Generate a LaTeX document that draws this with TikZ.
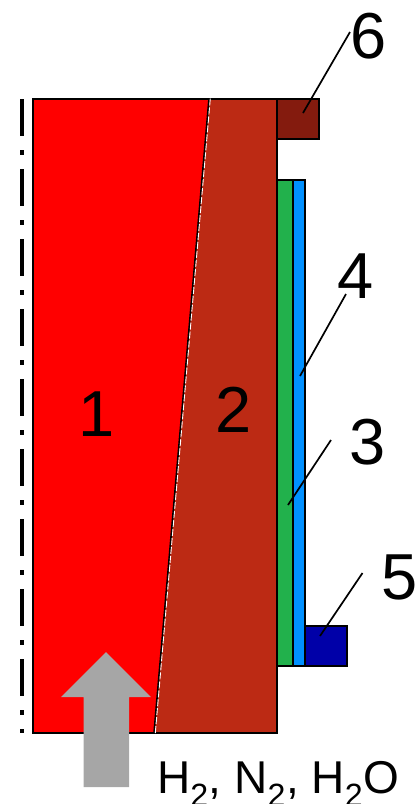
\documentclass[tikz,border=0pt]{standalone}
\usepackage{fontspec}
\setmainfont{Liberation Sans}
\definecolor{cA}{HTML}{FF0000}
\definecolor{cB}{HTML}{BC2A14}
\definecolor{cC}{HTML}{841B0E}
\definecolor{cG}{HTML}{22B14C}
\definecolor{cL}{HTML}{0090FF}
\definecolor{cD}{HTML}{0000A8}
\definecolor{cArrow}{HTML}{A6A6A6}
\tikzset{
  part/.style={draw=black,line width=2pt,line join=miter},
  leader/.style={draw=black,line width=1.7pt},
  digit/.style={inner sep=0pt,font=\fontsize{65}{65}\selectfont},
  gas/.style={inner sep=0pt,anchor=base west,font=\fontsize{46}{46}\selectfont},
}
\begin{document}
\begin{tikzpicture}[x=1pt,y=-1pt]
\useasboundingbox (0,0) rectangle (418,804);
% parts
\coordinate (divT) at (209,98.5);
\coordinate (divB) at (154,733);
\path[fill=cA] (32.5,98.5) -- (divT) -- (divB) -- (32.5,733) -- cycle;
\path[fill=cB] (divT) -- (277,98.5) -- (277,733) -- (divB) -- cycle;
\draw[part] (277,98.5) rectangle (319,139);
\path[fill=cC] (277,98.5) rectangle (319,139);
\draw[part] (277,98.5) rectangle (319,139);
\draw[part,fill=cG] (277,180) rectangle (293,666);
\draw[part,fill=cL] (293,180) rectangle (305,666);
\draw[part,fill=cD] (305,626) rectangle (346.5,666);
\draw[part] (32.5,98.5) rectangle (277,733);
% interface
\draw[black,line width=1.6pt] (divT) -- (divB);
\draw[white,line width=0.9pt,dash pattern=on 7pt off 2pt] ([xshift=1.3pt]divT) -- ([xshift=1.3pt]divB);
% axis
\coordinate (axT) at (22,99);
\coordinate (axB) at (22,733);
\draw[black,line width=4.6pt,dash pattern=on 37pt off 14pt on 5pt off 14pt] (axT) -- (axB);
% gas arrow
\path[fill=cArrow] (106,652) -- (151,697) -- (129,697) -- (129,787) -- (83.5,787) -- (83.5,697) -- (61,697) -- cycle;
% labels
\node[digit] (n1) at (97,414) {1};
\node[digit] (n2) at (234,410) {2};
\node[digit] (n3) at (368,442) {3};
\node[digit] (n4) at (356,276) {4};
\node[digit] (n5) at (400,577) {5};
\node[digit] (n6) at (369,36) {6};
\node[gas] (gas) at (157,793) {H\textsubscript{2}, N\textsubscript{2}, H\textsubscript{2}O};
% leaders
\coordinate (p3) at (288,505);
\coordinate (p4) at (300,376);
\coordinate (p5) at (320,636);
\coordinate (p6) at (303,113);
\coordinate (s3) at (331,440);
\coordinate (s4) at (346,294);
\coordinate (s5) at (362.5,573);
\coordinate (s6) at (350,32);
\draw[leader] (s3) -- (p3);
\draw[leader] (s4) -- (p4);
\draw[leader] (s5) -- (p5);
\draw[leader] (s6) -- (p6);
\end{tikzpicture}
\end{document}
